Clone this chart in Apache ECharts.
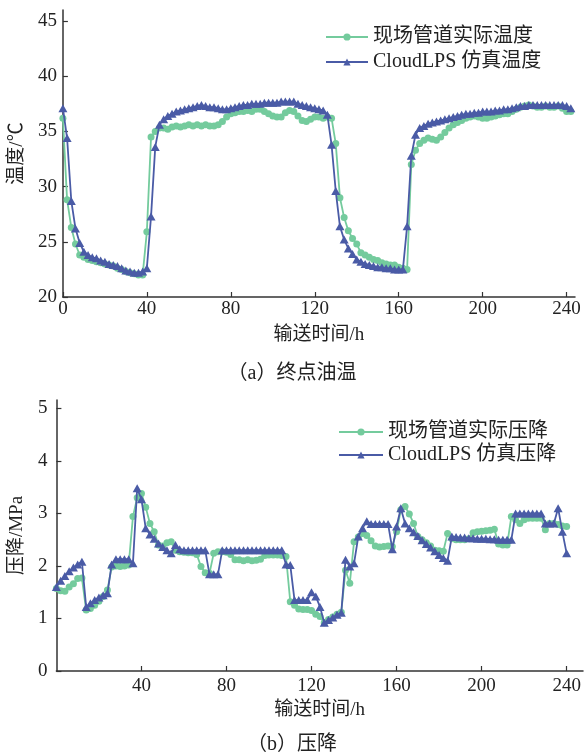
<!DOCTYPE html>
<html><head><meta charset="utf-8">
<script src="https://cdn.jsdelivr.net/npm/echarts@6/dist/echarts.min.js"></script>
<style>html,body{margin:0;padding:0;background:#fff}#c{width:584px;height:756px}</style>
</head><body><div id="c"></div>
<script>
// ---------- (a) terminal oil temperature ----------
const tempHours = [
  0,2,4,6,8,10,12,14,16,18,
  20,22,24,26,28,30,32,34,36,38,
  40,42,44,46,48,50,52,54,56,58,
  60,62,64,66,68,70,72,74,76,78,
  80,82,84,86,88,90,92,94,96,98,
  100,102,104,106,108,110,112,114,116,118,
  120,122,124,126,128,130,132,134,136,138,
  140,142,144,146,148,150,152,154,156,158,
  160,162,164,166,168,170,172,174,176,178,
  180,182,184,186,188,190,192,194,196,198,
  200,202,204,206,208,210,212,214,216,218,
  220,222,224,226,228,230,232,234,236,238,
  240,242
];
const tempField = [
  36.2,28.8,26.3,24.8,23.8,23.6,23.4,23.3,23.2,23.1,
  23.0,22.9,22.8,22.6,22.5,22.3,22.2,22.1,22.0,22.0,
  25.9,34.5,35.0,35.3,35.3,35.2,35.4,35.5,35.4,35.5,
  35.6,35.5,35.6,35.5,35.6,35.5,35.5,35.6,35.9,36.3,
  36.6,36.7,36.8,36.8,36.9,36.8,37.0,37.0,36.8,36.6,
  36.4,36.3,36.3,36.7,36.9,36.8,36.4,36.0,35.9,36.1,
  36.3,36.3,36.2,36.3,36.2,33.9,29.0,27.2,26.0,25.3,
  24.8,24.0,23.8,23.6,23.4,23.3,23.1,23.0,22.9,22.9,
  22.7,22.6,22.5,32.0,33.3,33.9,34.2,34.4,34.3,34.2,
  34.5,34.9,35.3,35.6,35.8,36.0,36.2,36.3,36.4,36.3,
  36.2,36.2,36.3,36.4,36.5,36.6,36.6,36.8,37.0,37.2,
  37.3,37.4,37.3,37.2,37.2,37.3,37.2,37.2,37.3,37.1,
  36.8,36.8
];
const tempSim = [
  37.1,34.4,28.7,26.2,24.9,24.1,23.8,23.6,23.5,23.3,
  23.2,23.0,22.9,22.8,22.6,22.4,22.3,22.2,22.2,22.3,
  22.6,27.3,33.6,35.6,36.1,36.4,36.6,36.8,36.9,37.0,
  37.1,37.2,37.3,37.4,37.3,37.2,37.2,37.1,37.0,37.0,
  37.1,37.2,37.3,37.4,37.4,37.5,37.5,37.5,37.6,37.6,
  37.6,37.6,37.7,37.7,37.7,37.7,37.5,37.4,37.3,37.2,
  37.1,37.0,36.9,36.5,33.8,29.6,26.4,25.2,24.4,23.9,
  23.4,23.2,23.0,22.9,22.8,22.7,22.7,22.6,22.6,22.5,
  22.5,22.5,26.4,32.8,34.7,35.3,35.5,35.7,35.8,35.9,
  36.0,36.1,36.2,36.3,36.4,36.5,36.6,36.6,36.7,36.7,
  36.8,36.8,36.8,36.9,36.9,37.0,37.0,37.1,37.2,37.3,
  37.3,37.4,37.4,37.4,37.4,37.4,37.4,37.4,37.4,37.4,
  37.3,37.1
];
const tempYTicks = [20,25,30,35,40,45];
const tempXTicks = [0,40,80,120,160,200,240];

// ---------- (b) pressure drop ----------
const pressHours = [
  0,2,4,6,8,10,12,14,16,18,
  20,22,24,26,28,30,32,34,36,38,
  40,42,44,46,48,50,52,54,56,58,
  60,62,64,66,68,70,72,74,76,78,
  80,82,84,86,88,90,92,94,96,98,
  100,102,104,106,108,110,112,114,116,118,
  120,122,124,126,128,130,132,134,136,138,
  140,142,144,146,148,150,152,154,156,158,
  160,162,164,166,168,170,172,174,176,178,
  180,182,184,186,188,190,192,194,196,198,
  200,202,204,206,208,210,212,214,216,218,
  220,222,224,226,228,230,232,234,236,238,
  240
];
const pressField = [
  1.57,1.53,1.52,1.60,1.66,1.76,1.77,1.16,1.19,1.25,
  1.33,1.42,1.54,1.98,2.00,1.99,2.00,2.02,2.94,3.30,
  3.38,3.12,2.81,2.65,2.40,2.38,2.44,2.46,2.30,2.27,
  2.26,2.25,2.25,2.22,1.99,1.87,1.86,2.24,2.27,2.27,
  2.26,2.22,2.12,2.12,2.10,2.12,2.10,2.11,2.13,2.20,
  2.21,2.21,2.21,2.20,2.18,1.32,1.25,1.18,1.17,1.17,
  1.15,1.08,1.04,0.92,0.98,1.03,1.08,1.12,1.92,1.67,
  2.46,2.55,2.62,2.58,2.48,2.38,2.36,2.37,2.38,2.37,
  2.65,3.07,3.13,2.99,2.81,2.56,2.50,2.44,2.38,2.30,
  2.29,2.28,2.62,2.52,2.50,2.50,2.50,2.52,2.63,2.65,
  2.66,2.67,2.68,2.70,2.42,2.40,2.40,2.94,2.88,2.81,
  2.88,2.91,2.91,2.91,2.91,2.69,2.81,2.81,2.79,2.76,
  2.75
];
const pressSim = [
  1.60,1.72,1.81,1.90,1.97,2.03,2.08,1.22,1.29,1.35,
  1.40,1.44,1.48,2.03,2.13,2.13,2.13,2.13,2.05,3.48,
  3.27,2.72,2.60,2.52,2.43,2.36,2.30,2.24,2.40,2.32,
  2.30,2.30,2.30,2.30,2.30,2.30,1.84,1.84,1.84,2.30,
  2.30,2.30,2.30,2.30,2.30,2.30,2.30,2.30,2.30,2.30,
  2.30,2.30,2.30,2.30,2.03,2.02,1.35,1.35,1.35,1.35,
  1.50,1.42,1.22,0.92,0.97,1.02,1.07,1.11,2.12,1.99,
  2.05,2.56,2.72,2.85,2.80,2.80,2.80,2.80,2.80,2.32,
  2.75,3.10,2.81,2.72,2.64,2.57,2.49,2.42,2.35,2.28,
  2.21,2.15,2.10,2.56,2.55,2.54,2.54,2.53,2.53,2.52,
  2.52,2.52,2.51,2.51,2.50,2.50,2.50,2.50,3.00,3.00,
  3.00,3.00,3.00,3.00,3.00,2.81,2.81,2.81,3.10,2.65,
  2.24
];
const pressYTicks = [0,1,2,3,4,5];
const pressXTicks = [40,80,120,160,200,240];

const names = ['现场管道实际温度','CloudLPS 仿真温度','现场管道实际压降','CloudLPS 仿真压降'];
const titles = ['（a）终点油温','（b）压降'];

const GREEN = '#74cb9d';
const BLUE = '#4a5ba6';
const FONT = "'Liberation Serif', 'Times New Roman', 'Noto Sans CJK SC', serif";
const TXT = '#222';

function pairs(xs, ys){ return xs.map((x,i)=>[x, ys[i]]); }

function xAxis(grid, max, ticks){
  return {
    type:'value', gridIndex:grid, min:0, max:max,
    name:'输送时间/h', nameLocation:'middle', nameGap: grid===0?29:30,
    nameTextStyle:{fontFamily:FONT, fontSize:19, color:TXT},
    axisLine:{show:true, onZero:false, lineStyle:{color:'#333', width:1.5}},
    axisTick:{show:true, inside:true, length:5, customValues:ticks, lineStyle:{color:'#333', width:1.2}},
    axisLabel:{customValues:ticks, fontFamily:FONT, fontSize:19, color:TXT, margin: grid===0?3:6},
    splitLine:{show:false}
  };
}
function yAxis(grid, min, max, ticks, name, gap){
  return {
    type:'value', gridIndex:grid, min:min, max:max,
    name:name, nameLocation:'middle', nameGap:gap, nameRotate:90,
    nameTextStyle:{fontFamily:FONT, fontSize:19, color:TXT},
    axisLine:{show:true, onZero:false, lineStyle:{color:'#333', width:1.5}},
    axisTick:{show:true, inside:true, length:5, customValues:ticks, lineStyle:{color:'#333', width:1.2}},
    axisLabel:{customValues:ticks, fontFamily:FONT, fontSize:19, color:TXT, margin: grid===0?6:9},
    splitLine:{show:false}
  };
}
function fieldSeries(name, x, y, idx){
  return {name:name, type:'line', xAxisIndex:idx, yAxisIndex:idx, data:pairs(x,y),
    symbol:'circle', symbolSize:7, showAllSymbol:true,
    lineStyle:{color:GREEN, width:1.8}, itemStyle:{color:GREEN}, z:2, animation:false};
}
function simSeries(name, x, y, idx){
  return {name:name, type:'line', xAxisIndex:idx, yAxisIndex:idx, data:pairs(x,y),
    symbol:'triangle', symbolSize:[9,8], showAllSymbol:true,
    lineStyle:{color:BLUE, width:1.8}, itemStyle:{color:BLUE}, z:3, animation:false};
}

const chart = echarts.init(document.getElementById('c'), null, {renderer:'canvas'});
chart.setOption({
  backgroundColor:'#fff',
  animation:false,
  grid:[
    {left:60, right:9, top:10, bottom:459},
    {left:51, right:1, top:400, bottom:85}
  ],
  xAxis:[ xAxis(0, 244, tempXTicks), xAxis(1, 247.7, pressXTicks) ],
  yAxis:[ yAxis(0, 20, 46, tempYTicks, '温度/℃', 29), yAxis(1, 0, 5.16, pressYTicks, '压降/MPa', 20) ],
  legend:[
    {data:[names[0],names[1]], orient:'vertical', left:320, top:22, padding:5, itemWidth:42, itemHeight:9, itemGap:5,
     textStyle:{fontFamily:FONT, fontSize:20, color:TXT}, selectedMode:false},
    {data:[names[2],names[3]], orient:'vertical', left:333, top:417, padding:5, itemWidth:44, itemHeight:9, itemGap:3,
     textStyle:{fontFamily:FONT, fontSize:20, color:TXT}, selectedMode:false}
  ],
  graphic:[
    {type:'text', left:'center', top:364, style:{text:titles[0], font:'20px '+FONT, fill:TXT}},
    {type:'text', left:'center', top:735, style:{text:titles[1], font:'20px '+FONT, fill:TXT}}
  ],
  series:[
    fieldSeries(names[0], tempHours, tempField, 0),
    simSeries(names[1], tempHours, tempSim, 0),
    fieldSeries(names[2], pressHours, pressField, 1),
    simSeries(names[3], pressHours, pressSim, 1)
  ]
});
</script></body></html>
